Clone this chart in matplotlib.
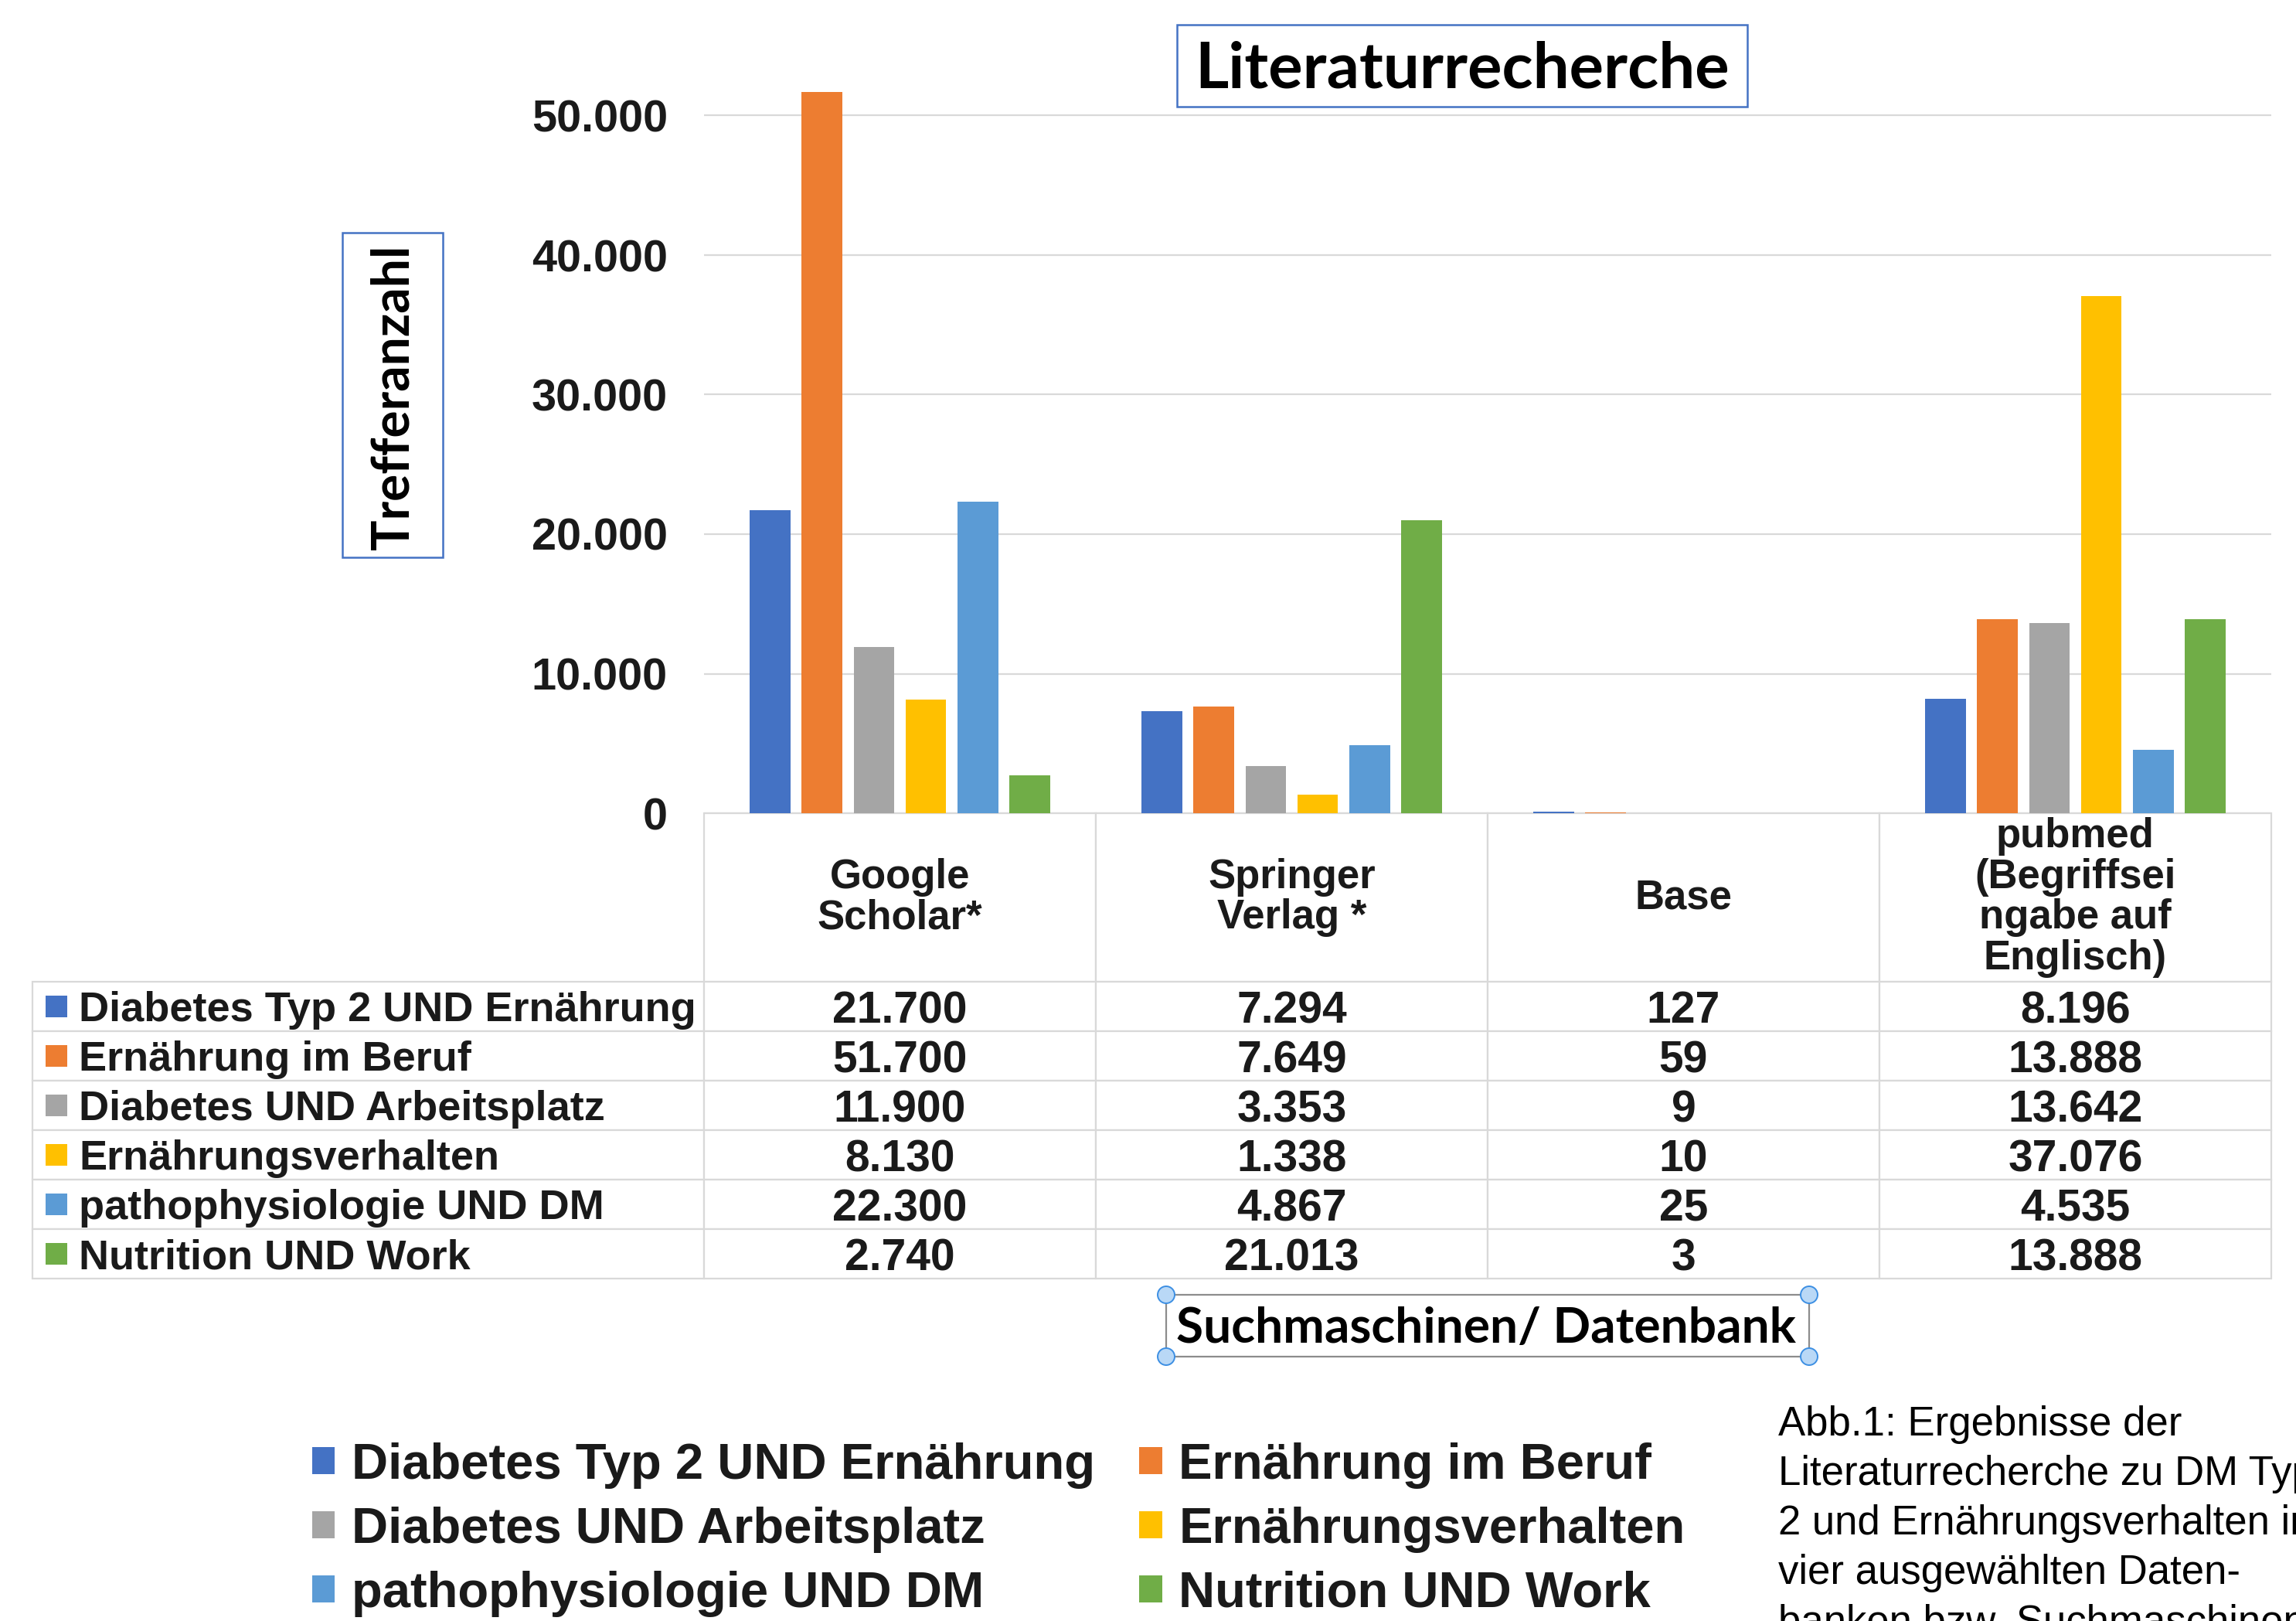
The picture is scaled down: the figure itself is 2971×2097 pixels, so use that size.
import matplotlib
matplotlib.use('Agg')
import matplotlib.pyplot as plt
from matplotlib.patches import Rectangle, Ellipse
from matplotlib.table import Table
import numpy as np

# ---------------- data ----------------
categories = ['Google\nScholar*', 'Springer\nVerlag *', 'Base',
              'pubmed\n(Begriffsei\nngabe auf\nEnglisch)']
series_names = ['Diabetes Typ 2 UND Ernährung', 'Ernährung im Beruf',
                'Diabetes UND Arbeitsplatz', 'Ernährungsverhalten',
                'pathophysiologie UND DM', 'Nutrition UND Work']
diabetes_typ2_ernaehrung = [21700, 7294, 127, 8196]
ernaehrung_im_beruf = [51700, 7649, 59, 13888]
diabetes_arbeitsplatz = [11900, 3353, 9, 13642]
ernaehrungsverhalten = [8130, 1338, 10, 37076]
pathophysiologie_dm = [22300, 4867, 25, 4535]
nutrition_work = [2740, 21013, 3, 13888]
series_values = [diabetes_typ2_ernaehrung, ernaehrung_im_beruf, diabetes_arbeitsplatz,
                 ernaehrungsverhalten, pathophysiologie_dm, nutrition_work]
colors = ['#4472C4', '#ED7D31', '#A5A5A5', '#FFC000', '#5B9BD5', '#70AD47']
ytick_values = [0, 10000, 20000, 30000, 40000, 50000]
ytick_labels = ['0', '10.000', '20.000', '30.000', '40.000', '50.000']
title_text = 'Literaturrecherche'
ylabel_text = 'Trefferanzahl'
xlabel_text = 'Suchmaschinen/ Datenbank'
caption_lines = ['Abb.1: Ergebnisse der', 'Literaturrecherche zu DM Typ',
                 '2 und Ernährungsverhalten in', 'vier ausgewählten Daten-',
                 'banken bzw. Suchmaschinen']

# ---------------- layout (pixels) ----------------
W, H, DPI = 2971, 2097, 100
AX_L, AX_R = 911, 2939
AX_B = 1052
YMAX = 52000
PX_PER_UNIT = 180.5 / 10000
AX_T = AX_B - YMAX * PX_PER_UNIT
HDR_H, ROW_H = 218, 64
ROWLAB_L = 42

plt.rcParams['font.family'] = ['Liberation Sans', 'DejaVu Sans']
TXT = '#1a1a1a'

def fx(p):
    return p / W

def fy(p):
    return 1 - p / H

fig = plt.figure(figsize=(W / DPI, H / DPI), dpi=DPI)
fig.patch.set_facecolor('white')
ax_w_px = AX_R - AX_L
ax_h_px = AX_B - AX_T
ax = fig.add_axes([fx(AX_L), fy(AX_B), ax_w_px / W, ax_h_px / H])

# bars
x = np.arange(len(categories))
slot, bw = 0.1325, 0.104
for i, (name, vals, c) in enumerate(zip(series_names, series_values, colors)):
    ax.bar(x + (i - 2.5) * slot, vals, width=bw, color=c, label=name, zorder=3)

ax.set_xlim(-0.5, len(categories) - 0.5)
ax.set_ylim(0, YMAX)
ax.set_xticks([])
ax.set_yticks(ytick_values)
ax.set_yticklabels(ytick_labels)
ax.tick_params(axis='y', length=0, pad=47 * 72 / DPI, labelsize=41.5, labelcolor=TXT)
for lbl in ax.get_yticklabels():
    lbl.set_fontweight('bold')
ax.grid(axis='y', color='#d9d9d9', lw=1.6, zorder=0)
ax.set_axisbelow(True)
for s in ax.spines.values():
    s.set_visible(False)

# data table
def fmt(v):
    return f'{v:,}'.replace(',', '.')

col_w = 1.0 / len(categories)
rowlab_w = (AX_L - ROWLAB_L) / ax_w_px
hdr_h = HDR_H / ax_h_px
row_h = ROW_H / ax_h_px
tbl_h = hdr_h + row_h * len(series_names)
tbl = Table(ax, bbox=[0, -tbl_h, 1, tbl_h])
for j, cat in enumerate(categories):
    tbl.add_cell(0, j, col_w, hdr_h, text=cat, loc='center')
for i, (name, vals) in enumerate(zip(series_names, series_values)):
    tbl.add_cell(i + 1, -1, rowlab_w, row_h, text=name, loc='left')
    for j, v in enumerate(vals):
        tbl.add_cell(i + 1, j, col_w, row_h, text=fmt(v), loc='center')
tbl.auto_set_font_size(False)
for (r, c), cell in tbl.get_celld().items():
    cell.set_edgecolor('#d9d9d9')
    cell.set_linewidth(1.6)
    t = cell.get_text()
    t.set_fontweight('bold')
    t.set_color(TXT)
    if r == 0:
        t.set_fontsize(38)
        t.set_linespacing(1.06)
    elif c == -1:
        t.set_fontsize(39)
        t.set_verticalalignment('center_baseline')
        cell.PAD = 60 / (AX_L - ROWLAB_L)
    else:
        t.set_fontsize(41)
        t.set_verticalalignment('center_baseline')
ax.add_table(tbl)

# color markers in row labels
for i, c in enumerate(colors):
    yc = AX_B + HDR_H + ROW_H * (i + 0.5)
    ax.add_patch(Rectangle(((59 - AX_L) / ax_w_px, -(yc - AX_B) / ax_h_px - 14 / ax_h_px),
                           28 / ax_w_px, 28 / ax_h_px, transform=ax.transAxes,
                           facecolor=c, edgecolor='none', clip_on=False, zorder=10))

renderer = fig.canvas.get_renderer()

def fit(t, target, vertical=False):
    bb = t.get_window_extent(renderer)
    cur = bb.height if vertical else bb.width
    t.set_fontsize(t.get_fontsize() * target / cur)

# title box
fig.add_artist(Rectangle((fx(1523), fy(138)), (2261 - 1523) / W, (138 - 32) / H,
                         transform=fig.transFigure, facecolor='white',
                         edgecolor='#4472C4', lw=1.8))
tt = fig.text(fx(1892), fy(90), title_text, ha='center', va='center',
              fontfamily='Lato', fontweight='bold', fontsize=50, color='black')
fit(tt, 694)

# y label box
fig.add_artist(Rectangle((fx(443), fy(721)), (573 - 443) / W, (721 - 301) / H,
                         transform=fig.transFigure, facecolor='white',
                         edgecolor='#4472C4', lw=1.8))
yl = fig.text(fx(510), fy(514), ylabel_text, ha='center', va='center', rotation=90,
              fontfamily='Lato', fontweight='bold', fontsize=50, color='black')
fit(yl, 395, vertical=True)

# x label box with selection handles
XB_L, XB_R, XB_T, XB_B = 1509, 2341, 1675, 1755
fig.add_artist(Rectangle((fx(XB_L), fy(XB_B)), (XB_R - XB_L) / W, (XB_B - XB_T) / H,
                         transform=fig.transFigure, facecolor='white',
                         edgecolor='#8c8c8c', lw=1.6))
xl = fig.text(fx(1923), fy(1718), xlabel_text, ha='center', va='center',
              fontfamily='Lato', fontweight='bold', fontsize=40, color='black')
fit(xl, 801)
for hx in (XB_L, XB_R):
    for hy in (XB_T, XB_B):
        fig.add_artist(Ellipse((fx(hx), fy(hy)), 22 / W, 22 / H, transform=fig.transFigure,
                               facecolor='#b9d8f6', edgecolor='#3d8fe3', lw=1.4, zorder=20))

# legend
handles = ax.containers
order = [0, 2, 4, 1, 3, 5]
fig.legend([handles[i] for i in order], [series_names[i] for i in order],
           ncol=2, loc='upper left', bbox_to_anchor=(fx(404), fy(1866)),
           frameon=False, borderpad=0, borderaxespad=0,
           prop={'weight': 'bold', 'size': 47}, labelcolor=TXT,
           handlelength=0.45, handleheight=0.45, handletextpad=0.33,
           columnspacing=0.88, labelspacing=0.35)

# caption
for i, line in enumerate(caption_lines):
    fig.text(fx(2301), fy(1857 + 64 * i), line, ha='left', va='baseline',
             fontsize=38, color='black')

fig.savefig('out.png', dpi=DPI, facecolor='white')
